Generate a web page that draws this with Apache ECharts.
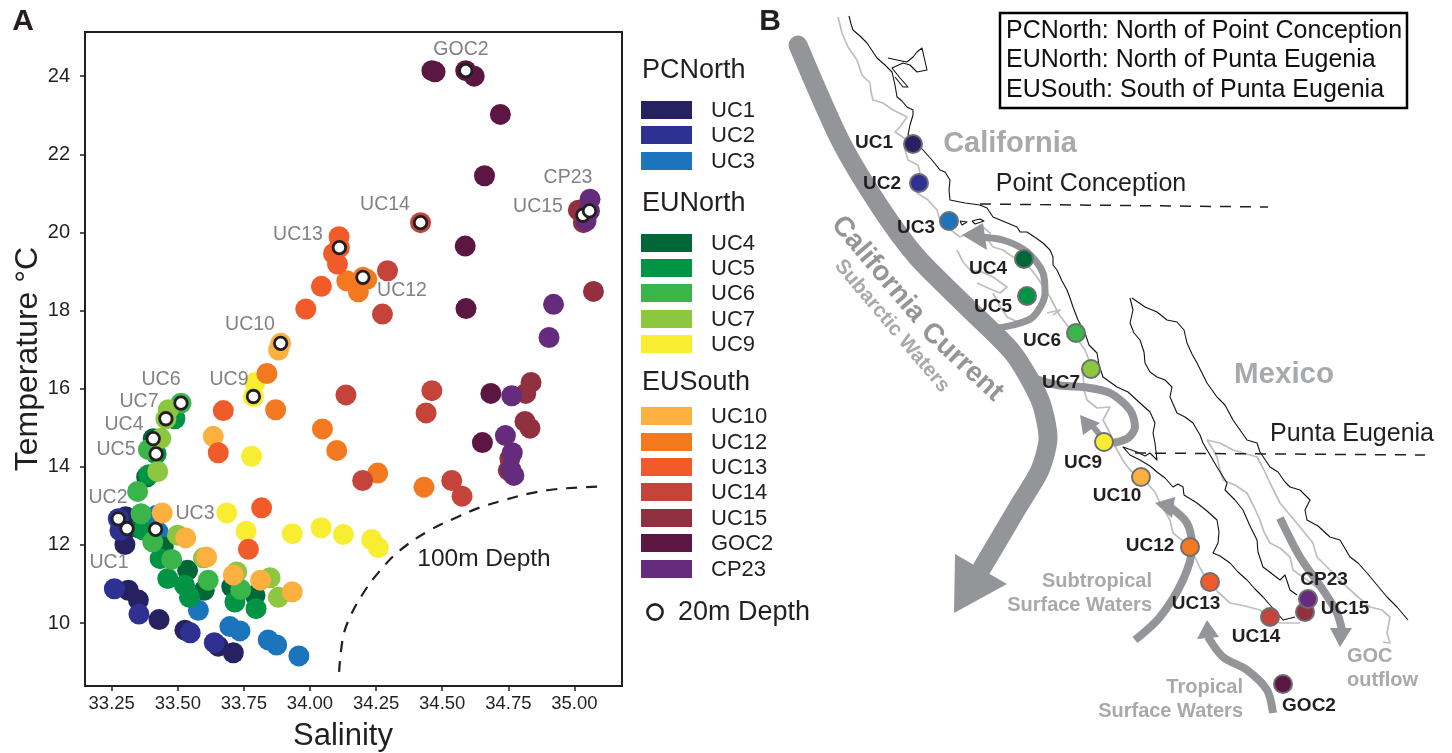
<!DOCTYPE html>
<html><head><meta charset="utf-8">
<style>html,body{margin:0;padding:0;background:#fff}#c{width:1452px;height:753px}</style>
<script src="https://cdn.jsdelivr.net/npm/echarts@6/dist/echarts.min.js"></script>
</head><body><div id="c"></div>
<script>
// ---------- Panel A: [salinity, temperature] ----------
const UC1=[[33.313,10.84],[33.351,10.59],[33.429,10.09],[33.527,9.82],[33.653,9.41],[33.710,9.24],[33.300,12.01],[33.303,12.72],[33.308,12.42]];
const UC2=[[33.260,10.88],[33.353,10.23],[33.547,9.75],[33.638,9.50],[33.281,12.37],[33.275,12.67]];
const UC3=[[33.578,10.33],[33.697,9.91],[33.735,9.80],[33.842,9.57],[33.874,9.44],[33.958,9.16],[33.420,12.76],[33.426,12.33],[33.416,12.40]];
const UC4=[[33.407,14.72],[33.382,13.74],[33.357,12.42],[33.445,11.95],[33.537,11.35],[33.600,10.84],[33.704,10.93],[33.792,10.71]];
const UC5=[[33.489,15.23],[33.418,14.33],[33.390,13.80],[33.462,11.14],[33.525,10.97],[33.544,10.66],[33.433,11.65],[33.716,10.54],[33.796,10.37],[33.370,12.38]];
const UC6=[[33.512,15.63],[33.389,14.44],[33.348,13.37],[33.361,12.80],[33.405,12.08],[33.477,11.63],[33.615,11.10],[33.738,10.86]];
const UC7=[[33.455,15.23],[33.464,15.46],[33.436,14.73],[33.424,13.88],[33.499,12.25],[33.597,11.67],[33.723,11.31],[33.849,11.16],[33.880,10.66]];
const UC9=[[33.786,15.80],[33.792,16.16],[33.779,14.27],[33.685,12.82],[33.758,12.35],[33.933,12.29],[34.042,12.44],[34.126,12.27],[34.233,12.14],[34.258,11.93]];
const UC10=[[33.634,14.78],[33.441,12.82],[33.530,12.18],[33.609,11.69],[33.710,11.23],[33.813,11.10],[33.933,10.80],[33.889,17.16],[33.881,16.99]];
const UC12=[[33.837,16.39],[33.870,15.46],[34.047,14.97],[34.101,14.42],[34.256,13.84],[34.431,13.48],[34.139,18.76],[34.183,18.48],[34.200,18.85],[34.215,18.80]];
const UC13=[[33.672,15.44],[33.653,14.36],[33.817,12.95],[33.767,11.89],[33.984,18.04],[34.043,18.62],[34.104,19.19],[34.089,19.46],[34.111,19.61],[34.110,19.89]];
const UC14=[[34.418,20.25],[34.293,19.02],[34.274,17.91],[34.136,15.84],[34.199,13.65],[34.461,15.95],[34.439,15.38],[34.536,13.65],[34.575,13.25]];
const UC15=[[34.836,16.16],[34.816,15.88],[34.813,15.16],[34.832,14.99],[34.756,14.21],[34.750,13.91],[35.072,18.49],[35.015,20.57],[35.034,20.25],[35.032,20.44]];
const GOC2=[[34.461,24.14],[34.473,24.11],[34.589,24.14],[34.621,24.00],[34.720,23.02],[34.660,21.45],[34.587,19.65],[34.590,18.05],[34.684,15.88],[34.652,14.62]];
const CP23=[[34.763,15.82],[34.739,14.80],[34.765,14.36],[34.759,13.93],[34.771,13.78],[34.921,18.16],[34.904,17.31],[35.059,20.85],[35.044,20.29],[35.057,20.55]];
const depth20m=[[33.275,12.67],[33.308,12.42],[33.416,12.40],[33.407,14.72],[33.418,14.33],[33.512,15.63],[33.455,15.23],[33.786,15.80],[33.889,17.16],[34.200,18.85],[34.111,19.61],[34.418,20.25],[35.032,20.44],[34.589,24.14],[35.057,20.55]];
const depth100m=[[34.110,8.75],[34.125,9.64],[34.151,10.15],[34.197,10.72],[34.257,11.28],[34.340,11.86],[34.454,12.38],[34.556,12.71],[34.643,12.96],[34.730,13.14],[34.832,13.32],[34.919,13.42],[35.013,13.47],[35.104,13.50]];
const xTicks=[33.25,33.5,33.75,34,34.25,34.5,34.75,35];
const yTicks=[10,12,14,16,18,20,22,24];
const stationNames=['UC1','UC2','UC3','UC4','UC5','UC6','UC7','UC9','UC10','UC12','UC13','UC14','UC15','GOC2','CP23'];
const stationValues=[UC1,UC2,UC3,UC4,UC5,UC6,UC7,UC9,UC10,UC12,UC13,UC14,UC15,GOC2,CP23];
const stationColors=['#262262','#2e3192','#1c75bc','#006838','#009444','#39b54a','#8dc63f','#f9ed32','#fbb040','#f37921','#f15a29','#c5443a','#92303f','#5c1642','#652c7e'];

// ---------- Panel B: map geometry, in map units ----------
const coastPacific=[[849,16],[851,24],[853,30],[860,36],[867,43],[873,52],[877,58],[885,65],[892,72],[895,85],[897,97],[902,101],[907,107],[913,110],[913,115],[910,125],[908,135],[916,142],[923,150],[932,160],[940,170],[945,172],[950,180],[949,190],[950,200],[965,203],[980,205],[987,208],[993,217],[1005,222],[1017,227],[1020,232],[1027,232],[1036,238],[1043,243],[1050,250],[1053,257],[1053,265],[1057,270],[1062,281],[1067,290],[1070,298],[1073,307],[1078,320],[1085,333],[1089,345],[1097,353],[1099,365],[1103,377],[1110,382],[1117,387],[1128,392],[1140,403],[1150,412],[1155,423],[1153,433],[1155,443],[1157,460],[1150,453],[1145,456],[1137,452],[1123,447],[1130,455],[1140,460],[1150,466],[1157,472],[1165,478],[1173,487],[1178,484],[1183,487],[1184,495],[1197,503],[1207,511],[1217,520],[1219,532],[1218,543],[1213,553],[1220,556],[1230,563],[1238,572],[1247,580],[1255,589],[1263,597],[1270,605],[1277,613],[1283,620],[1295,617]];
const coastBajaGulf=[[1130,298],[1133,310],[1130,323],[1134,333],[1140,340],[1144,352],[1145,363],[1150,372],[1157,377],[1165,380],[1172,387],[1170,397],[1177,413],[1185,417],[1193,423],[1200,435],[1203,443],[1210,455],[1217,467],[1227,483],[1225,490],[1235,500],[1243,510],[1250,526],[1257,540],[1258,552],[1263,567],[1271,573],[1280,580],[1285,575],[1290,590],[1297,595]];
const coastMainland=[[1132,298],[1145,307],[1157,312],[1167,320],[1177,322],[1184,330],[1187,343],[1192,354],[1197,363],[1203,375],[1207,383],[1217,397],[1225,405],[1233,420],[1240,430],[1247,440],[1257,443],[1260,452],[1270,467],[1278,472],[1285,482],[1290,487],[1300,490],[1310,500],[1305,510],[1307,520],[1318,526],[1330,537],[1340,540],[1350,557],[1358,563],[1367,573],[1377,585],[1387,597],[1397,607],[1408,620]];
const bayNorth=[[888,58],[897,60],[907,62],[913,57],[917,52],[922,48],[927,70],[917,72],[910,65],[903,63],[892,68],[900,78],[908,87],[903,87],[895,77]];
const islandA=[[960,221],[967,222],[969,224],[962,225],[960,221]];
const islandB=[[972,221],[980,219],[984,221],[975,224],[972,221]];
const shelfNorth=[[838,17],[840,25],[842,33],[848,47],[857,60],[862,75],[870,83],[871,92],[873,100],[883,103],[893,110],[907,117],[900,127],[895,132],[907,140],[905,150],[908,160],[918,165],[920,173],[915,184],[917,193],[928,200],[937,210],[940,220],[947,227],[960,237]];
const bightA=[[960,237],[972,231],[983,227],[990,233],[988,240],[993,247],[1003,250],[1013,257],[1025,262],[1037,277],[1050,297],[1060,316],[1073,333],[1085,350],[1093,370]];
const bightB=[[957,250],[963,262],[970,270],[982,272],[993,277],[1007,287],[1000,293],[988,288],[977,283]];
const bightC=[[993,293],[1000,306],[1007,317],[1020,323]];
const bightD=[[1047,313],[1060,310],[1053,315]];
const shelfSouth=[[1083,373],[1084,390],[1087,400],[1097,408],[1110,407],[1103,420],[1110,433],[1117,450],[1124,462],[1130,470],[1147,483],[1155,492],[1160,503],[1170,520],[1173,533],[1183,541],[1193,553],[1200,568],[1207,580],[1218,592],[1230,603],[1245,606],[1260,610],[1270,618],[1280,623],[1300,623]];
const shelfGulfW=[[1207,440],[1212,448],[1217,457],[1220,470],[1223,480],[1235,485],[1247,493],[1254,507],[1260,520],[1264,532],[1270,543],[1280,548],[1290,557],[1293,570],[1307,580],[1320,590]];
const shelfGulfE=[[1207,440],[1220,443],[1233,450],[1257,457],[1264,470],[1270,483],[1280,503],[1290,515],[1300,527],[1313,543],[1317,557],[1332,572],[1347,587],[1358,597],[1370,607],[1382,610],[1390,617],[1387,633],[1390,643],[1383,642]];
const currentMain=[[798,45],[840,140],[880,207],[917,257],[967,307],[1013,353],[1040,400],[1048,438],[1040,470],[1018,507],[982,568]];
const headMain=[[955,554],[1007,584],[954,613]];
const loopNorth=[[977,237],[1003,240],[1027,252],[1043,273],[1045,293],[1033,317],[1013,325],[993,328],[980,322]];
const headLoopNorth=[[962,235],[983,223],[987,250]];
const loopSouth=[[1030,377],[1057,385],[1083,387],[1110,393],[1130,410],[1135,427],[1128,438],[1113,443]];
const stemSouth=[[1108,443],[1100,435],[1091,424]];
const headLoopSouth=[[1080,415],[1100,423],[1083,435]];
const subtropical=[[1135,640],[1160,617],[1183,580],[1192,547],[1187,523],[1170,507]];
const headSubtropical=[[1155,503],[1175,497],[1172,518]];
const tropical=[[1273,713],[1267,690],[1247,670],[1223,657],[1208,637]];
const headTropical=[[1207,620],[1197,639],[1219,637]];
const gocOutflow=[[1280,518],[1300,557],[1323,590],[1337,613],[1342,630]];
const headGoc=[[1340,647],[1330,628],[1352,628]];
const pointConception=[[980,204],[1268,207]];
const puntaEugenia=[[1135,453],[1425,455]];
const sites=[[913,144],[919,183],[949,221],[1024,259],[1027,296],[1076,333],[1091,369],[1104,442],[1141,477],[1190,547],[1210,582],[1270,617],[1305,612],[1283,684],[1308,599]];
const siteLabels=[[874,143],[882,184],[916,228],[988,269],[993,307],[1042,341],[1061,383],[1083,463],[1117,496],[1150,546],[1196,604],[1256,637],[1345,609],[1309,706],[1324,580]];
const plotLabels=[['UC1',109,563],['UC2',108,498],['UC3',195,514],['UC4',124,425],['UC5',116,450],['UC6',161,380],['UC7',139,402],['UC9',229,380],['UC10',250,325],['UC12',402,291],['UC13',298,235],['UC14',385,205],['UC15',538,207],['GOC2',461,50],['CP23',568,178]];
const legendHeaders=[['PCNorth',71],['EUNorth',204],['EUSouth',383]];
const legendRows=[110,135,161,243,268,293,319,344,416,442,467,492,518,543,569];
const boxLines=['PCNorth: North of Point Conception','EUNorth: North of Punta Eugenia','EUSouth: South of Punta Eugenia'];

const FF='"Liberation Sans",Arial,sans-serif';
const INK='#231f20', GREY='#939598', PALE='#a7a9ac', SHELF='#bcbec0';
const series=[], graphic=[];

function txt(text,x,y,size,fill,o){o=o||{};
  graphic.push({type:'text',x:x,y:y,rotation:o.rot||0,z:200,silent:true,style:{text:text,fontFamily:FF,fontSize:size,fontWeight:o.bold?'bold':'normal',fill:fill,textAlign:o.align||'center',textVerticalAlign:'middle',align:o.align||'center',verticalAlign:'middle'}});
}
function mapLine(data,color,width,o){o=o||{};
  series.push({type:'line',xAxisIndex:1,yAxisIndex:1,data:data,symbol:'none',silent:true,smooth:o.smooth||0,z:o.z||2,
    lineStyle:{color:color,width:width,type:o.dash||'solid',cap:o.cap||'butt',join:'round'}});
}
function mapPoly(points,color){
  series.push({type:'custom',xAxisIndex:1,yAxisIndex:1,silent:true,z:3,data:[0],coordinateSystem:'cartesian2d',
    renderItem:function(p,api){return {type:'polygon',shape:{points:points.map(q=>api.coord(q))},style:{fill:color}};}});
}

// station scatter
stationNames.forEach((n,i)=>series.push({type:'scatter',name:n,data:stationValues[i],symbolSize:21,z:5,itemStyle:{color:stationColors[i],opacity:1}}));
series.push({type:'scatter',name:'20m Depth',data:depth20m,symbolSize:12.5,z:6,itemStyle:{color:'#fff',borderColor:INK,borderWidth:2.8,opacity:1}});
series.push({type:'line',name:'100m Depth',data:depth100m,symbol:'none',smooth:0.4,z:4,lineStyle:{color:INK,width:2.2,type:[11,9]}});

// map
[shelfNorth,bightA,bightB,bightC,bightD,shelfSouth,shelfGulfW,shelfGulfE].forEach(d=>mapLine(d,SHELF,1.7));
[coastPacific,coastBajaGulf,coastMainland,bayNorth,islandA,islandB].forEach(d=>mapLine(d,'#111',1.1));
mapLine(currentMain,GREY,19,{smooth:0.25,cap:'round'});
[[loopNorth,7],[loopSouth,8],[stemSouth,6],[subtropical,8],[tropical,8],[gocOutflow,8]].forEach(a=>mapLine(a[0],GREY,a[1],{smooth:0.3}));
[headMain,headLoopNorth,headLoopSouth,headSubtropical,headTropical,headGoc].forEach(h=>mapPoly(h,GREY));
[pointConception,puntaEugenia].forEach(d=>mapLine(d,INK,1.5,{dash:[11,9],z:3}));
series.push({type:'scatter',xAxisIndex:1,yAxisIndex:1,z:7,silent:true,symbolSize:18,
  data:sites.map((s,i)=>({value:s,itemStyle:{color:stationColors[i]}})),
  itemStyle:{borderColor:'#6d6e71',borderWidth:2,opacity:1}});

// texts in the plot
plotLabels.forEach(l=>txt(l[0],l[1],l[2],19.5,'#808285'));
txt('100m Depth',484,559,24.5,INK);
txt('A',23,22,30,INK,{bold:true});
txt('B',770,22,30,INK,{bold:true});
txt('Temperature °C',28,359,32,INK,{rot:Math.PI/2});
txt('Salinity',343,736,31,INK);
// legend
legendHeaders.forEach(h=>txt(h[0],642,h[1],27,INK,{align:'left'}));
stationNames.forEach((n,i)=>{
  graphic.push({type:'rect',x:641,y:legendRows[i]-9,z:200,silent:true,shape:{width:51,height:18},style:{fill:stationColors[i]}});
  txt(n,711,legendRows[i]+1,22,INK,{align:'left'});
});
graphic.push({type:'circle',x:655,y:612,z:200,silent:true,shape:{r:7.6},style:{fill:'#fff',stroke:INK,lineWidth:2.6}});
txt('20m Depth',678,613,27,INK,{align:'left'});
// map texts
stationNames.forEach((n,i)=>txt(n,siteLabels[i][0],siteLabels[i][1],19,INK,{bold:true}));
txt('California',1010,144,29,PALE,{bold:true});
txt('Mexico',1284,375,29.5,PALE,{bold:true});
txt('Point Conception',1091,184,25,INK);
txt('Punta Eugenia',1352,434,25,INK);
txt('California',878,269,28,GREY,{bold:true,rot:-0.87});
txt('Current',962,362,28,GREY,{bold:true,rot:-0.75});
txt('Subarctic Waters',892,326,20.5,PALE,{bold:true,rot:-0.87});
txt('Subtropical',1152,581,20,PALE,{bold:true,align:'right'});
txt('Surface Waters',1152,605,20,PALE,{bold:true,align:'right'});
txt('Tropical',1243,687,20,PALE,{bold:true,align:'right'});
txt('Surface Waters',1243,711,20,PALE,{bold:true,align:'right'});
txt('GOC',1347,656,20,PALE,{bold:true,align:'left'});
txt('outflow',1347,680,20,PALE,{bold:true,align:'left'});
graphic.push({type:'rect',x:1000,y:13,z:200,silent:true,shape:{width:407,height:95},style:{fill:'#fff',stroke:'#000',lineWidth:2.5}});
boxLines.forEach((b,i)=>txt(b,1006,31+i*29.5,25,'#111',{align:'left'}));

const chart=echarts.init(document.getElementById('c'));
chart.setOption({
  animation:false,backgroundColor:'#fff',textStyle:{fontFamily:FF},
  grid:[{left:85,top:32,width:537,height:654,show:true,outerBoundsMode:'none',containLabel:false,borderColor:INK,borderWidth:2,backgroundColor:'#fff'},
        {left:0,top:0,width:1452,height:753,show:false,outerBoundsMode:'none'}],
  xAxis:[{type:'value',gridIndex:0,min:33.149,max:35.18,splitLine:{show:false},axisLine:{show:false},
          axisTick:{show:true,length:5,inside:false,customValues:xTicks,lineStyle:{color:INK,width:1.5}},
          axisLabel:{show:true,customValues:xTicks,margin:8,fontSize:18.5,color:INK,fontFamily:FF,formatter:v=>v.toFixed(2)}},
         {type:'value',gridIndex:1,min:0,max:1452,show:false}],
  yAxis:[{type:'value',gridIndex:0,min:8.39,max:25.13,splitLine:{show:false},axisLine:{show:false},
          axisTick:{show:true,length:5,inside:false,customValues:yTicks,lineStyle:{color:INK,width:1.5}},
          axisLabel:{show:true,customValues:yTicks,margin:15,fontSize:20,color:INK,fontFamily:FF}},
         {type:'value',gridIndex:1,min:0,max:753,inverse:true,show:false}],
  series:series,graphic:{elements:graphic}
});
</script></body></html>
